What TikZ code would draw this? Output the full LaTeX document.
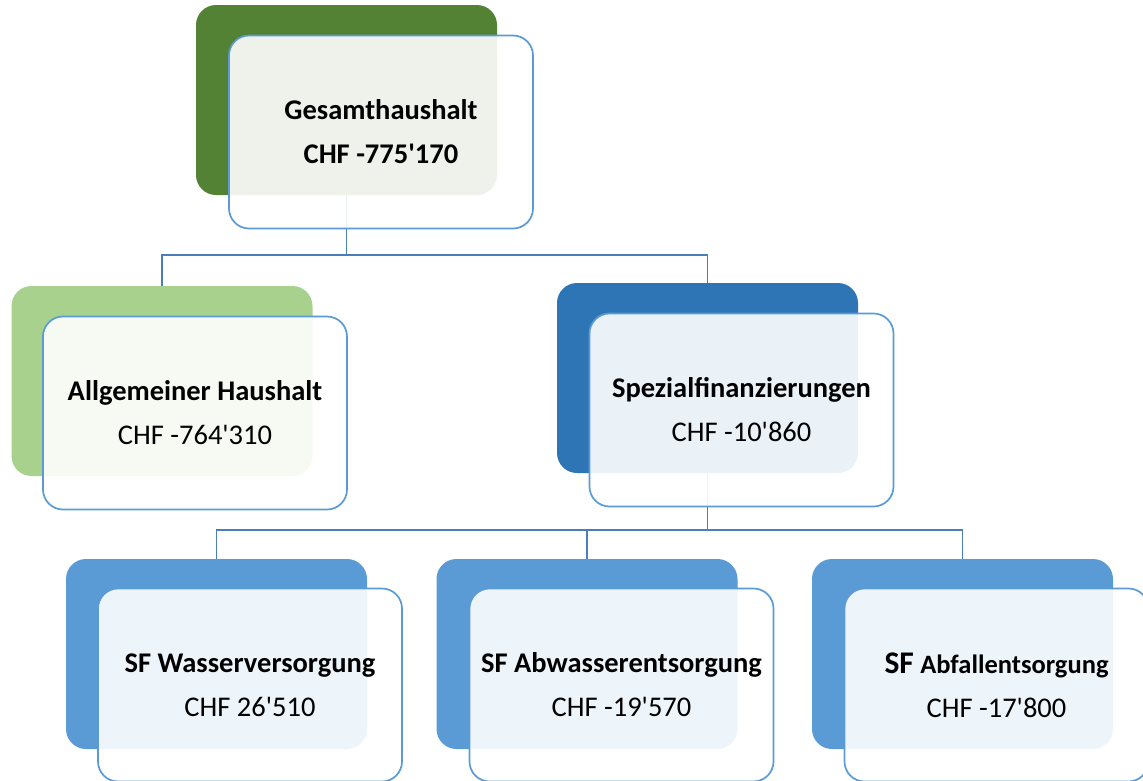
\documentclass[tikz,border=0pt]{standalone}
\usepackage{fontspec}
\setmainfont{Carlito}
\definecolor{dgreen}{HTML}{548235}
\definecolor{lgreen}{HTML}{A9D18E}
\definecolor{dblue}{HTML}{2E75B6}
\definecolor{mblue}{HTML}{5B9BD5}
\definecolor{edgeblue}{HTML}{5B9BD5}
\definecolor{linkblue}{HTML}{4A7EBB}
\newcommand{\ap}{\textquotesingle}
\begin{document}
\begin{tikzpicture}[x=1pt,y=-1pt,
  backbox/.style={rounded corners=20pt, minimum width=301pt, minimum height=190pt, inner sep=0pt, outer sep=0pt},
  frontbox/.style={rounded corners=20pt, minimum width=304pt, minimum height=193pt, inner sep=0pt, outer sep=0pt,
    draw=edgeblue, line width=1.7pt, fill=white, fill opacity=0.9, text opacity=1, align=center,
    font=\fontsize{28.5}{44}\selectfont},
  link/.style={draw=linkblue, line width=1.3pt}]
\fill[white] (0,0) rectangle (1143,780);
\useasboundingbox (0,0) rectangle (1143,780);
% back boxes
\node[backbox, fill=dgreen] (topback) at (346.5,100) {};
\node[backbox, fill=lgreen] (allgback) at (162,381) {};
\node[backbox, fill=dblue] (spezback) at (707.5,378) {};
\node[backbox, fill=mblue] (wback) at (216.5,654) {};
\node[backbox, fill=mblue] (abwback) at (587,654) {};
\node[backbox, fill=mblue] (abfback) at (962.5,654) {};
% connectors
\draw[link] (topback.south) -- ++(0,60) -| (allgback.north);
\draw[link] (topback.south) -- ++(0,60) -| (spezback.north);
\draw[link] (spezback.south) -- ++(0,57) -| (wback.north);
\draw[link] (spezback.south) -- ++(0,57) -| (abwback.north);
\draw[link] (spezback.south) -- ++(0,57) -| (abfback.north);
% front boxes
\node[frontbox] (top) at (381,132) {\textbf{Gesamthaushalt}\\\textbf{CHF -775\ap170}};
\node[frontbox] (allg) at (195,413) {\textbf{Allgemeiner Haushalt}\\CHF -764\ap310};
\node[frontbox] (spez) at (741.5,410) {\textbf{Spezialfinanzierungen}\\CHF -10\ap860};
\node[frontbox] (w) at (250,685) {\textbf{SF Wasserversorgung}\\CHF 26\ap510};
\node[frontbox] (abw) at (621.5,685) {\textbf{SF Abwasserentsorgung}\\CHF -19\ap570};
\node[frontbox] (abf) at (996.5,685) {\textbf{{\fontsize{31.5}{44}\selectfont SF} {\fontsize{26.5}{44}\selectfont Abfallentsorgung}}\\CHF -17\ap800};
\end{tikzpicture}
\end{document}
